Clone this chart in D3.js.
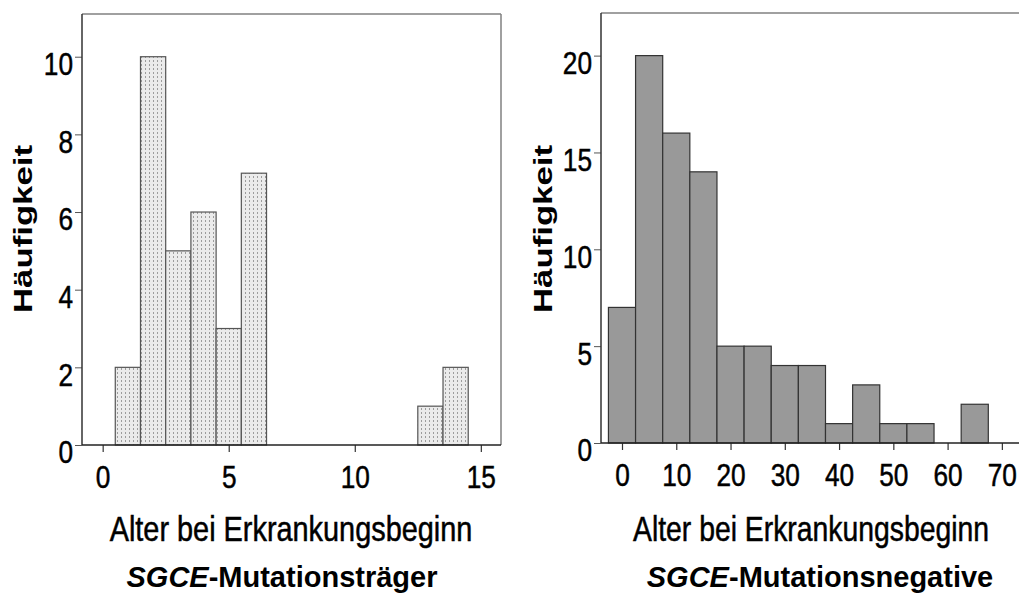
<!DOCTYPE html>
<html>
<head>
<meta charset="utf-8">
<script src="https://cdn.jsdelivr.net/npm/d3@7"></script>
<style>
  body { margin: 0; background: #fff; }
  svg { display: block; }
  .g-tick text { font-family: "Liberation Sans Narrow", "Arial Narrow", "Liberation Sans", Arial, sans-serif; font-size: 32px; fill: #000; stroke: #000; stroke-width: 0.5px; }
  .g-xtitle { font-family: "Liberation Sans Narrow", "Arial Narrow", "Liberation Sans", Arial, sans-serif; font-size: 35px; fill: #000; stroke: #000; stroke-width: 0.5px; }
  .g-ytitle { font-family: "Liberation Sans", Arial, sans-serif; font-weight: bold; font-size: 26px; fill: #000; }
  .g-sub { font-family: "Liberation Sans", Arial, sans-serif; font-weight: bold; font-size: 29px; fill: #000; }
</style>
</head>
<body>
<div id="chart"></div>
<script>
// SGCE carriers: age of onset (bin centres) and counts
let carrierAges = [1, 2, 3, 4, 5, 6, 13, 14];
let carrierCounts = [2, 10, 5, 6, 3, 7, 1, 2];
let carrierXTicks = [0, 5, 10, 15];
let carrierYTicks = [0, 2, 4, 6, 8, 10];

// SGCE negative: 5-year bins
let negAges = [0, 5, 10, 15, 20, 25, 30, 35, 40, 45, 50, 55, 60, 65];
let negCounts = [7, 20, 16, 14, 5, 5, 4, 4, 1, 3, 1, 1, 0, 2];
let negXTicks = [0, 10, 20, 30, 40, 50, 60, 70];
let negYTicks = [0, 5, 10, 15, 20];

let xTitle = "Alter bei Erkrankungsbeginn";
let yTitle = "Häufigkeit";

let width = 1019, height = 594;
let narrow = 0.82; // no narrow font installed, squeeze the regular one
let svg = d3.select("#chart").append("svg")
    .attr("width", width)
    .attr("height", height);

// dotted fill for the left histogram
let pat = svg.append("defs").append("pattern")
    .attr("id", "dots")
    .attr("patternUnits", "userSpaceOnUse")
    .attr("width", 4)
    .attr("height", 4);
pat.append("rect").attr("width", 4).attr("height", 4).attr("fill", "#ebebeb");
pat.append("rect").attr("x", 1).attr("y", 0).attr("width", 1).attr("height", 2).attr("fill", "#9c9c9c");

let panels = [
    {
        ages: carrierAges, counts: carrierCounts, binW: 1,
        xTicks: carrierXTicks, yTicks: carrierYTicks,
        xDomain: [-0.82, 15.8], xRange: [82, 501],
        yDomain: [0, 11.1], yRange: [445, 14],
        fill: "url(#dots)", stroke: "#555",
        rightBorder: true,
        titleX: 291, titleScale: 0.825, subX: 282, yLabelX: 32,
        sub: ["SGCE", "-Mutationsträger"]
    },
    {
        ages: negAges, counts: negCounts, binW: 5,
        xTicks: negXTicks, yTicks: negYTicks,
        xDomain: [-3.87, 75], xRange: [601, 1029],
        yDomain: [0, 22.2], yRange: [443, 13],
        fill: "#999999", stroke: "#333",
        rightBorder: false,
        titleX: 811, titleScale: 0.81, subX: 820, yLabelX: 552,
        sub: ["SGCE", "-Mutationsnegative"]
    }
];

panels.forEach(function(p){
    let x = d3.scaleLinear().domain(p.xDomain).range(p.xRange);
    let y = d3.scaleLinear().domain(p.yDomain).range(p.yRange);
    let g = svg.append("g");

    let x0 = p.xRange[0], x1 = p.xRange[1];
    let yTop = p.yRange[1], yBot = p.yRange[0];

    // frame (top + right in gray)
    g.append("line")
        .attr("x1", x0).attr("x2", x1).attr("y1", yTop).attr("y2", yTop)
        .attr("stroke", "#808080").attr("stroke-width", 1.5);
    if (p.rightBorder) {
        g.append("line")
            .attr("x1", x1).attr("x2", x1).attr("y1", yTop).attr("y2", yBot)
            .attr("stroke", "#808080").attr("stroke-width", 1.5);
    }

    let data = p.ages.map((a, i) => ({age: a, n: p.counts[i]})).filter(d => d.n > 0);

    g.selectAll("rect.g-bar").data(data).enter().append("rect")
        .attr("class", "g-bar")
        .attr("x", d => x(d.age - p.binW / 2))
        .attr("width", d => x(d.age + p.binW / 2) - x(d.age - p.binW / 2))
        .attr("y", d => y(d.n))
        .attr("height", d => y(0) - y(d.n))
        .attr("fill", p.fill)
        .attr("stroke", p.stroke)
        .attr("stroke-width", 1.2);

    // left axis
    let yAxis = g.append("g")
        .attr("class", "g-tick")
        .attr("transform", "translate(" + x0 + ",0)")
        .call(d3.axisLeft(y).tickValues(p.yTicks).tickSize(7).tickPadding(2).tickFormat(d3.format("d")));
    yAxis.select(".domain").remove();
    yAxis.selectAll(".tick line").attr("stroke", "#555");
    yAxis.selectAll("text")
        .attr("x", -9 / narrow)
        .attr("dy", "0.56em")
        .attr("transform", "scale(" + narrow + ",1)");
    g.append("line")
        .attr("x1", x0).attr("x2", x0).attr("y1", yTop).attr("y2", yBot)
        .attr("stroke", "#333").attr("stroke-width", 1.5);

    // bottom axis
    let xAxis = g.append("g")
        .attr("class", "g-tick")
        .attr("transform", "translate(0," + yBot + ")")
        .call(d3.axisBottom(x).tickValues(p.xTicks).tickSize(7).tickPadding(13).tickFormat(d3.format("d")));
    xAxis.select(".domain").remove();
    xAxis.selectAll(".tick line").attr("stroke", "#333").attr("stroke-width", 1.2);
    xAxis.selectAll("text").attr("transform", "scale(" + narrow + ",1)");
    g.append("line")
        .attr("x1", x0).attr("x2", x1).attr("y1", yBot).attr("y2", yBot)
        .attr("stroke", "#222").attr("stroke-width", 1.5);

    // titles
    g.append("text")
        .attr("class", "g-xtitle")
        .attr("transform", "translate(" + p.titleX + ",541) scale(" + p.titleScale + ",1)")
        .attr("text-anchor", "middle")
        .text(xTitle);

    g.append("text")
        .attr("class", "g-ytitle")
        .attr("transform", "translate(" + p.yLabelX + ",229) rotate(-90)")
        .attr("text-anchor", "middle")
        .attr("textLength", 168)
        .attr("lengthAdjust", "spacingAndGlyphs")
        .text(yTitle);

    let sub = g.append("text")
        .attr("class", "g-sub")
        .attr("x", p.subX).attr("y", 587)
        .attr("text-anchor", "middle");
    sub.append("tspan").attr("font-style", "italic").text(p.sub[0]);
    sub.append("tspan").text(p.sub[1]);
});
</script>
</body>
</html>
